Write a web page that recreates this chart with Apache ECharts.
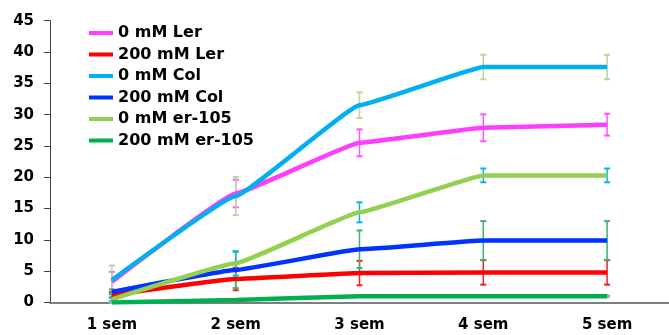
<!DOCTYPE html>
<html>
<head>
<meta charset="utf-8">
<script src="https://cdn.jsdelivr.net/npm/echarts@6/dist/echarts.min.js"></script>
<style>html,body{margin:0;padding:0;background:#fff}#c{width:669px;height:335px}</style>
</head>
<body>
<div id="c"></div>
<script>
const categories = ['1 sem', '2 sem', '3 sem', '4 sem', '5 sem'];
const seriesNames = ['0 mM Ler', '200 mM Ler', '0 mM Col', '200 mM Col', '0 mM er-105', '200 mM er-105'];
const ler0 = [3.3, 17.4, 25.5, 27.9, 28.4];
const ler200 = [1.2, 3.75, 4.7, 4.8, 4.8];
const col0 = [3.6, 17.0, 31.5, 37.6, 37.6];
const col200 = [1.7, 5.2, 8.5, 9.9, 9.9];
const er0 = [0.5, 6.25, 14.4, 20.3, 20.3];
const er200 = [0.0, 0.4, 1.0, 1.0, 1.0];
const ler0Err = [1.6, 2.2, 2.15, 2.15, 1.75];
const ler200Err = [0.4, 1.8, 1.95, 1.95, 1.95];
const col0Err = [2.3, 3.05, 2.05, 1.95, 1.95];
const col200Err = [0.4, 2.9, 3.0, 3.1, 3.1];
const er0Err = [0.3, 1.95, 1.6, 1.1, 1.1];
const er200Err = [0.1, 0.1, 0.1, 0.1, 0.1];
const yTicks = {min: 0, max: 45, interval: 5};

const values = [ler0, ler200, col0, col200, er0, er200];
const errs = [ler0Err, ler200Err, col0Err, col200Err, er0Err, er200Err];
const lineColors = ['#ff3dff', '#ff0000', '#00b0f0', '#0033ff', '#92d050', '#00b050'];
const errColors = ['#ff55ff', '#f02020', '#b5d6a0', '#3cb371', '#10b0e8', '#90b8a0'];

const FONT = 'DejaVu Sans';

function errRender(params, api) {
  const x = api.value(0), lo = api.value(1), hi = api.value(2);
  const p1 = api.coord([x, lo]);
  const p2 = api.coord([x, hi]);
  const c = api.visual('color');
  const w = 3;
  return {
    type: 'group',
    children: [
      {type: 'line', shape: {x1: p1[0], y1: p1[1], x2: p2[0], y2: p2[1]}, style: {stroke: c, lineWidth: 1.5}},
      {type: 'line', shape: {x1: p1[0] - w, y1: p1[1], x2: p1[0] + w, y2: p1[1]}, style: {stroke: c, lineWidth: 2}},
      {type: 'line', shape: {x1: p2[0] - w, y1: p2[1], x2: p2[0] + w, y2: p2[1]}, style: {stroke: c, lineWidth: 2}}
    ]
  };
}

const series = [];
values.forEach((v, k) => {
  series.push({
    type: 'custom',
    name: seriesNames[k] + ' err',
    renderItem: errRender,
    itemStyle: {color: errColors[k]},
    data: v.map((y, i) => [i, y - errs[k][i], y + errs[k][i]]),
    z: 1,
    silent: true
  });
});
values.forEach((v, k) => {
  series.push({
    type: 'line',
    name: seriesNames[k],
    data: v,
    symbol: 'none',
    smooth: 0.08,
    smoothMonotone: 'x',
    lineStyle: {width: 4.5, color: lineColors[k]},
    itemStyle: {color: lineColors[k]},
    z: 3 + k
  });
});

const chart = echarts.init(document.getElementById('c'), null, {renderer: 'canvas'});
chart.setOption({
  animation: false,
  backgroundColor: '#ffffff',
  grid: {left: 50, right: -11, top: 20.7, bottom: 32.5, containLabel: false},
  legend: {
    data: seriesNames.map((n, k) => ({name: n, icon: 'rect', itemStyle: {color: lineColors[k]}})),
    orient: 'vertical',
    left: 89,
    top: 25,
    padding: 0,
    itemWidth: 24,
    itemHeight: 4,
    itemGap: 5.5,
    textStyle: {fontFamily: FONT, fontWeight: 'bold', fontSize: 16, color: '#000', lineHeight: 16}
  },
  xAxis: {
    type: 'category',
    data: categories,
    boundaryGap: true,
    axisLine: {lineStyle: {color: '#7f7f7f', width: 2}},
    axisTick: {show: false},
    axisLabel: {fontFamily: FONT, fontWeight: 'bold', fontSize: 15, color: '#000', margin: 15}
  },
  yAxis: {
    type: 'value',
    min: yTicks.min, max: yTicks.max, interval: yTicks.interval,
    axisLine: {show: true, lineStyle: {color: '#404040', width: 1}},
    axisTick: {show: true, length: 6, lineStyle: {color: '#404040'}},
    splitLine: {show: false},
    axisLabel: {fontFamily: FONT, fontWeight: 'bold', fontSize: 15, color: '#000', margin: 16}
  },
  series: series
});
</script>
</body>
</html>
